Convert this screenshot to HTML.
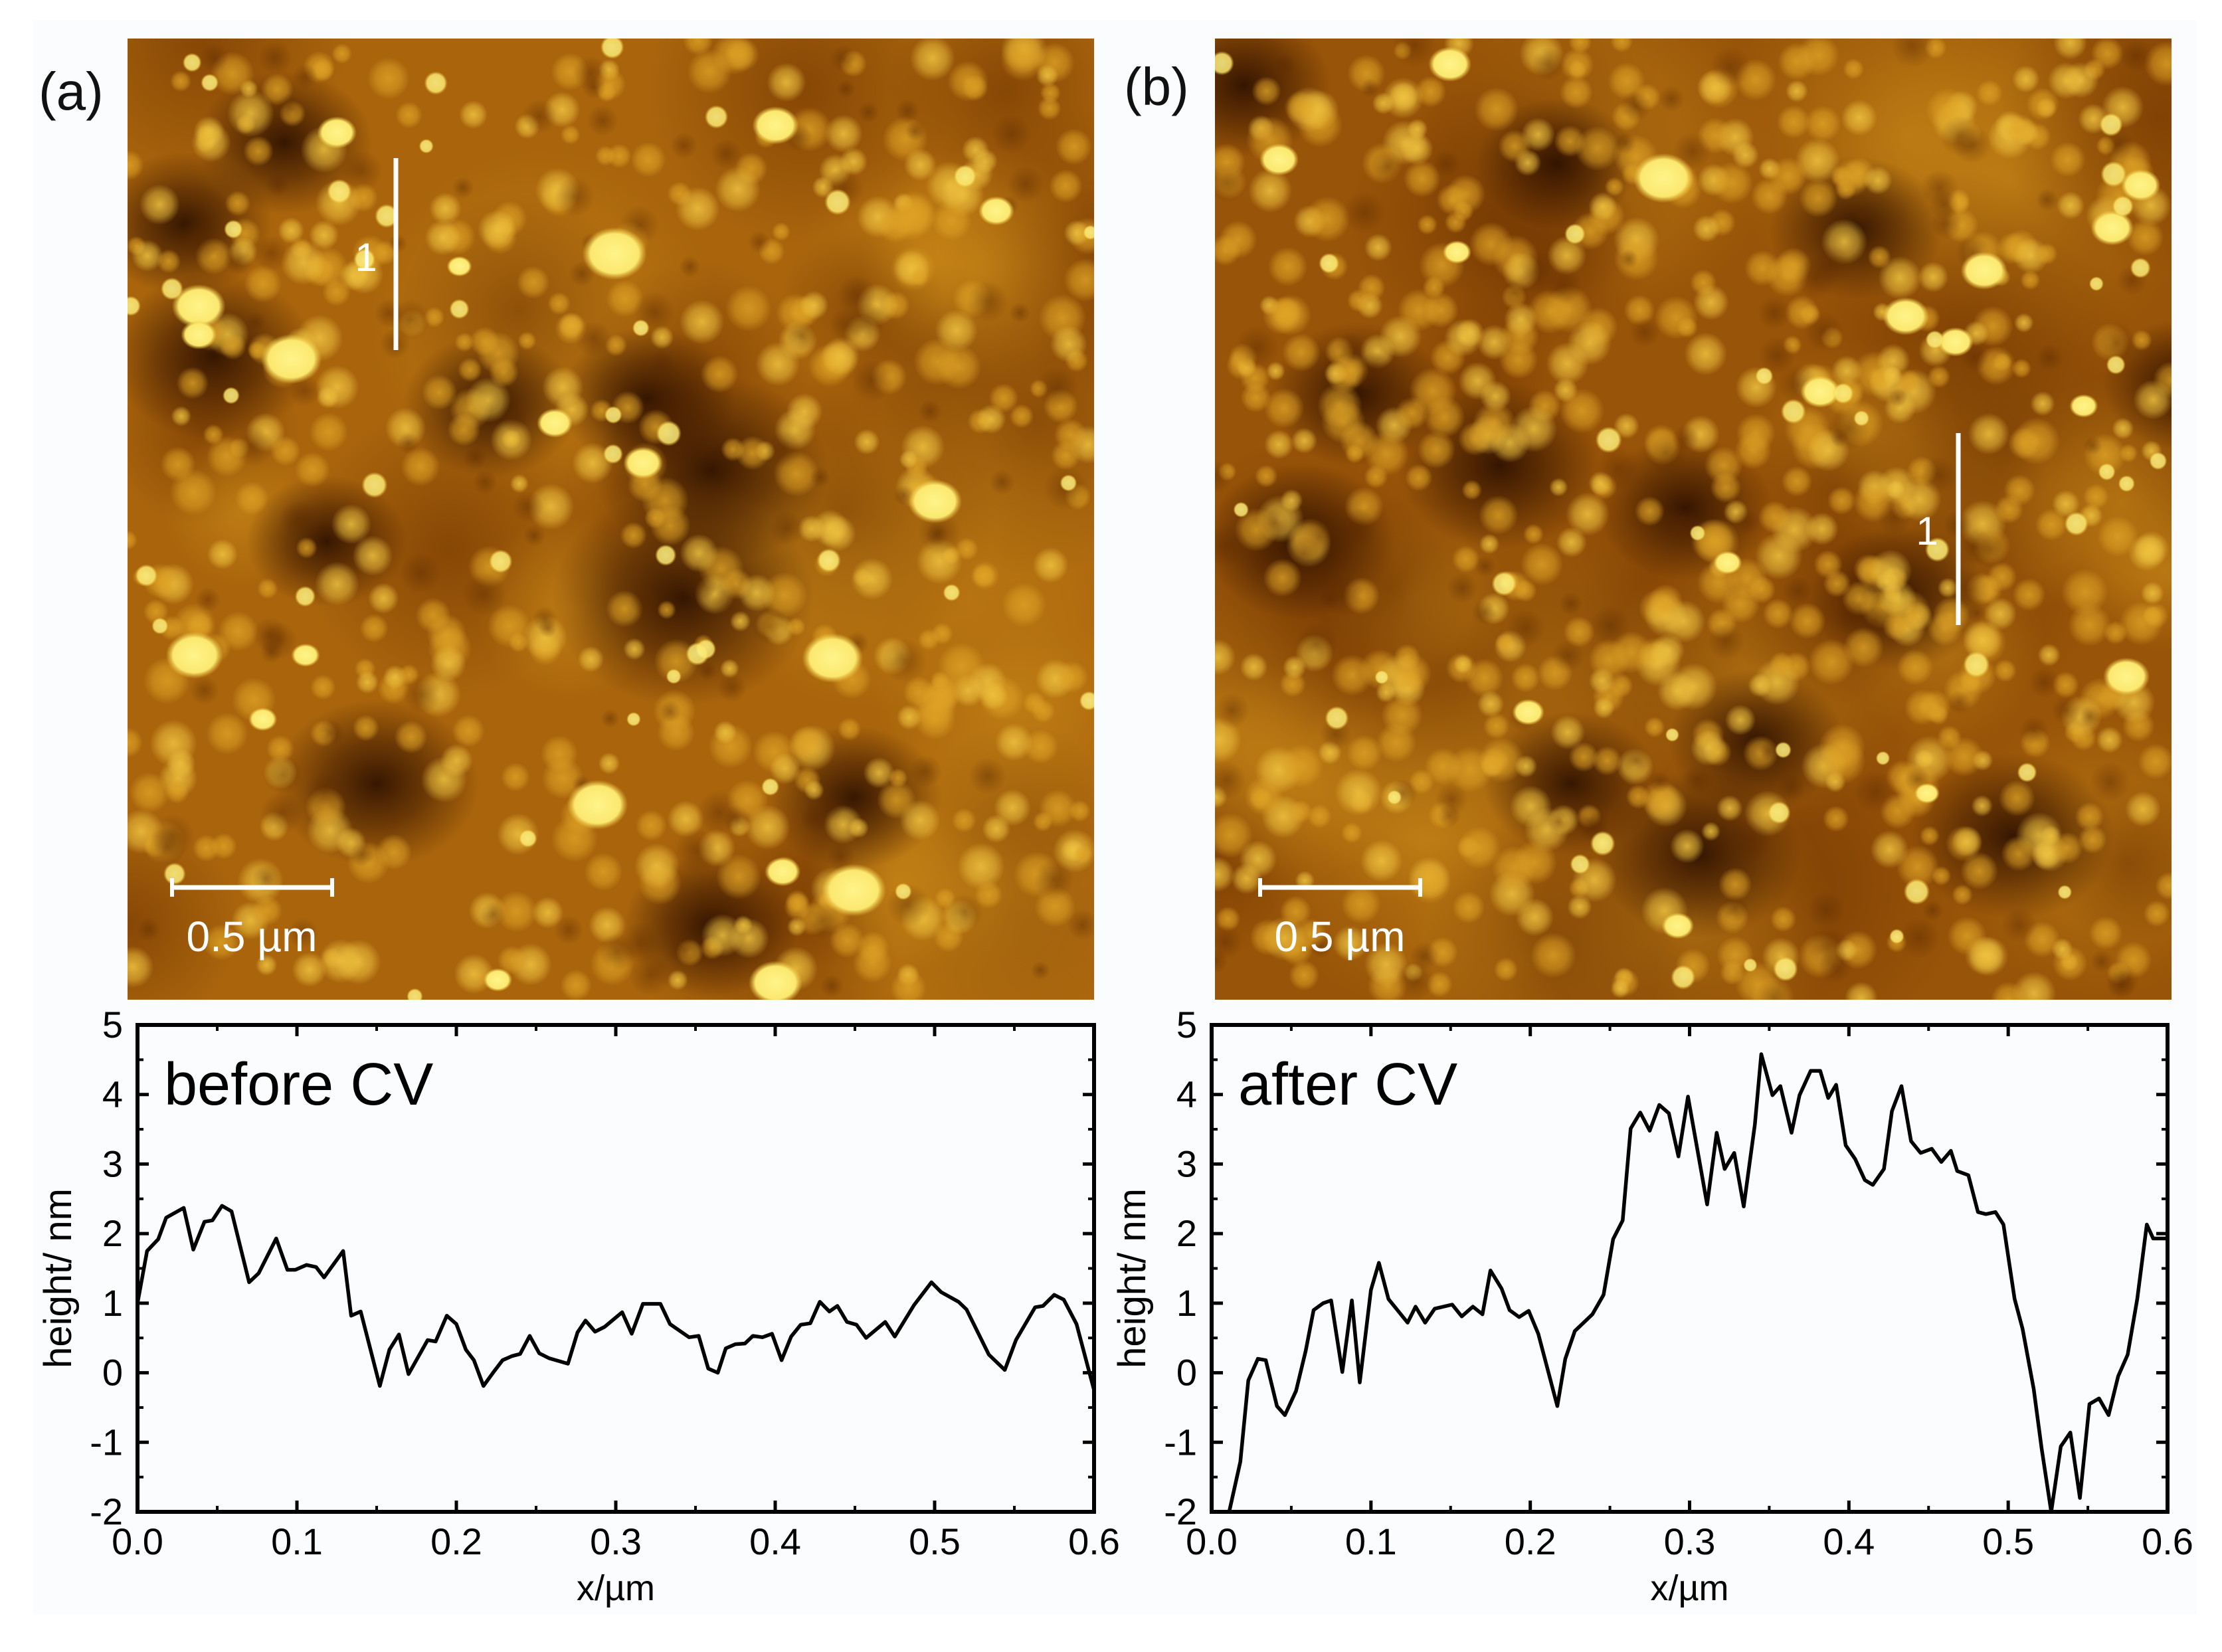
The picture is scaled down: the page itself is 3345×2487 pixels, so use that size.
<!DOCTYPE html>
<html><head><meta charset="utf-8"><style>
html,body{margin:0;padding:0;background:#fff;}
#root{position:relative;width:3345px;height:2487px;overflow:hidden;background:#fff;}
svg text{font-family:"Liberation Sans",sans-serif;}
</style></head><body>
<div id="root">
<svg id="fig" width="3345" height="2487" viewBox="0 0 3345 2487" xmlns="http://www.w3.org/2000/svg">
<defs>
<radialGradient id="gDark"><stop offset="0" stop-color="#2a0e00" stop-opacity="0.9"/><stop offset="0.5" stop-color="#3a1600" stop-opacity="0.55"/><stop offset="1" stop-color="#3a1600" stop-opacity="0"/></radialGradient>
<radialGradient id="gBrown"><stop offset="0" stop-color="#6a3000" stop-opacity="0.55"/><stop offset="1" stop-color="#6a3000" stop-opacity="0"/></radialGradient>
<radialGradient id="gLightPatch"><stop offset="0" stop-color="#d0901a" stop-opacity="0.55"/><stop offset="1" stop-color="#d0901a" stop-opacity="0"/></radialGradient>
<radialGradient id="gGrain1"><stop offset="0" stop-color="#e0a426" stop-opacity="0.8"/><stop offset="0.6" stop-color="#e0a426" stop-opacity="0.5"/><stop offset="1" stop-color="#e0a426" stop-opacity="0"/></radialGradient>
<radialGradient id="gGrain2"><stop offset="0" stop-color="#f0c440" stop-opacity="0.85"/><stop offset="0.6" stop-color="#f0c440" stop-opacity="0.5"/><stop offset="1" stop-color="#f0c440" stop-opacity="0"/></radialGradient>
<radialGradient id="gPit"><stop offset="0" stop-color="#5a2800" stop-opacity="0.45"/><stop offset="1" stop-color="#5a2800" stop-opacity="0"/></radialGradient>
<radialGradient id="gBright"><stop offset="0" stop-color="#fff48a"/><stop offset="0.75" stop-color="#fbe870"/><stop offset="1" stop-color="#f0c840" stop-opacity="0"/></radialGradient>
<clipPath id="clipA"><rect x="192" y="58" width="1455" height="1447"/></clipPath>
<clipPath id="clipB"><rect x="1829" y="58" width="1440" height="1447"/></clipPath>
</defs>
<rect x="50" y="30" width="3257" height="2400" fill="#fafcfd"/>
<g id="afmA" clip-path="url(#clipA)"></g>
<g id="afmB" clip-path="url(#clipB)"></g>
<text x="58" y="165" font-size="80" fill="#111">(a)</text>
<text x="1692" y="158" font-size="80" fill="#111">(b)</text>
<g>
<line x1="259" y1="1336" x2="500" y2="1336" stroke="#fff" stroke-width="7"/>
<line x1="259" y1="1322" x2="259" y2="1350" stroke="#fff" stroke-width="6"/>
<line x1="500" y1="1322" x2="500" y2="1350" stroke="#fff" stroke-width="6"/>
<text x="379" y="1432" font-size="64" fill="#fff" text-anchor="middle" font-family="DejaVu Sans, sans-serif">0.5 µm</text>
</g>
<g>
<line x1="1897" y1="1336" x2="2138" y2="1336" stroke="#fff" stroke-width="7"/>
<line x1="1897" y1="1322" x2="1897" y2="1350" stroke="#fff" stroke-width="6"/>
<line x1="2138" y1="1322" x2="2138" y2="1350" stroke="#fff" stroke-width="6"/>
<text x="2017" y="1432" font-size="64" fill="#fff" text-anchor="middle" font-family="DejaVu Sans, sans-serif">0.5 µm</text>
</g>
<g>
<line x1="596" y1="238" x2="596" y2="527" stroke="#fff" stroke-width="7"/>
<text x="551" y="408" font-size="60" fill="#fff" text-anchor="middle" font-family="DejaVu Sans, sans-serif">1</text>
</g>
<g>
<line x1="2948" y1="652" x2="2948" y2="941" stroke="#fff" stroke-width="7"/>
<text x="2901" y="820" font-size="60" fill="#fff" text-anchor="middle" font-family="DejaVu Sans, sans-serif">1</text>
</g>
<g id="chartA"></g>
<g id="chartB"></g>
</svg>
</div>
<script>
// ---- chart data ----
const xTicks = [0.0, 0.1, 0.2, 0.3, 0.4, 0.5, 0.6];
const xTickLabels = ["0.0","0.1","0.2","0.3","0.4","0.5","0.6"];
const yTicks = [-2, -1, 0, 1, 2, 3, 4, 5];
const yTickLabels = ["-2","-1","0","1","2","3","4","5"];
const beforeX = [0,.006,.013,.018,.029,.035,.042,.047,.053,.059,.070,.076,.087,.094,.099,.106,.112,.117,.129,.134,.140,.152,.158,.164,.170,.182,.187,.194,.200,.206,.211,.217,.223,.229,.235,.240,.246,.252,.258,.270,.276,.281,.287,.293,.304,.310,.317,.328,.334,.346,.352,.358,.364,.369,.375,.381,.386,.392,.398,.404,.410,.416,.422,.428,.434,.439,.445,.451,.457,.469,.475,.487,.498,.504,.515,.520,.534,.544,.551,.563,.568,.575,.581,.589,.600];
const beforeY = [1.0,1.75,1.92,2.23,2.37,1.77,2.17,2.19,2.4,2.32,1.3,1.43,1.93,1.48,1.48,1.55,1.52,1.37,1.75,0.82,0.88,-0.19,0.33,0.55,-0.02,0.47,0.45,0.82,0.7,0.33,0.18,-0.19,0,0.18,0.24,0.27,0.53,0.28,0.21,0.13,0.58,0.75,0.59,0.66,0.87,0.56,0.99,0.99,0.7,0.51,0.53,0.06,0,0.35,0.41,0.42,0.53,0.51,0.56,0.18,0.52,0.69,0.71,1.02,0.88,0.96,0.73,0.69,0.5,0.73,0.52,0.97,1.3,1.16,1.02,0.91,0.26,0.04,0.47,0.94,0.96,1.12,1.05,0.7,-0.25];
const afterX = [.011,.018,.023,.029,.034,.041,.046,.053,.059,.064,.070,.075,.082,.088,.093,.100,.105,.111,.123,.128,.134,.140,.151,.157,.164,.170,.175,.182,.187,.193,.199,.205,.217,.222,.228,.239,.246,.252,.258,.263,.269,.275,.281,.287,.293,.299,.311,.317,.322,.328,.334,.341,.345,.352,.357,.364,.369,.376,.382,.387,.392,.398,.404,.410,.415,.422,.427,.433,.439,.445,.452,.458,.464,.468,.475,.481,.486,.492,.497,.504,.509,.516,.521,.527,.533,.539,.545,.551,.557,.563,.569,.575,.581,.587,.591,.600];
const afterY = [-2,-1.28,-0.11,0.2,0.18,-0.48,-0.61,-0.26,0.31,0.9,1.0,1.04,0.01,1.04,-0.14,1.19,1.58,1.06,0.72,0.95,0.72,0.92,0.98,0.81,0.95,0.84,1.47,1.21,0.9,0.8,0.89,0.56,-0.48,0.2,0.6,0.84,1.12,1.92,2.19,3.51,3.74,3.48,3.85,3.73,3.11,3.97,2.42,3.45,2.93,3.16,2.39,3.57,4.58,3.99,4.12,3.45,3.99,4.34,4.34,3.95,4.14,3.27,3.07,2.77,2.7,2.93,3.76,4.12,3.33,3.16,3.22,3.03,3.19,2.9,2.84,2.31,2.28,2.31,2.13,1.06,0.63,-0.23,-1.09,-2.0,-1.06,-0.86,-1.8,-0.45,-0.37,-0.61,-0.05,0.26,1.06,2.13,1.93,1.93];

const NS = "http://www.w3.org/2000/svg";
function mk(tag, attrs, parent){const e=document.createElementNS(NS,tag);for(const k in attrs)e.setAttribute(k,attrs[k]);if(parent)parent.appendChild(e);return e;}

function drawChart(g, L, R, T, B, xs, ys, title, key){
  const sx = v => L + (v - 0) / 0.6 * (R - L);
  const sy = v => B - (v + 2) / 7 * (B - T);
  const frame = mk("rect",{x:L,y:T,width:R-L,height:B-T,fill:"none",stroke:"#000","stroke-width":6},g);
  
  
  for (let i=0;i<xTicks.length;i++){
    const x = sx(xTicks[i]);
    mk("line",{x1:x,y1:B,x2:x,y2:B-17,stroke:"#000","stroke-width":5},g);
    mk("line",{x1:x,y1:T,x2:x,y2:T+17,stroke:"#000","stroke-width":5},g);
    if (i<xTicks.length-1){
      const xm = sx(xTicks[i]+0.05);
      mk("line",{x1:xm,y1:B,x2:xm,y2:B-9,stroke:"#000","stroke-width":4},g);
      mk("line",{x1:xm,y1:T,x2:xm,y2:T+9,stroke:"#000","stroke-width":4},g);
    }
    const t = mk("text",{x:x,y:B+64,"font-size":56,"text-anchor":"middle",fill:"#000"},g);
    t.textContent = xTickLabels[i];
    
    
  }
  for (let i=0;i<yTicks.length;i++){
    const y = sy(yTicks[i]);
    mk("line",{x1:L,y1:y,x2:L+17,y2:y,stroke:"#000","stroke-width":5},g);
    mk("line",{x1:R,y1:y,x2:R-17,y2:y,stroke:"#000","stroke-width":5},g);
    if (i<yTicks.length-1){
      const ym = sy(yTicks[i]+0.5);
      mk("line",{x1:L,y1:ym,x2:L+9,y2:ym,stroke:"#000","stroke-width":4},g);
      mk("line",{x1:R,y1:ym,x2:R-9,y2:ym,stroke:"#000","stroke-width":4},g);
    }
    const t = mk("text",{x:L-22,y:y+19,"font-size":56,"text-anchor":"end",fill:"#000"},g);
    t.textContent = yTickLabels[i];
    
    
  }
  let d = "";
  for (let i=0;i<xs.length;i++){ d += (i?"L":"M") + sx(xs[i]).toFixed(1) + "," + sy(ys[i]).toFixed(1); }
  const p = mk("path",{d:d,fill:"none",stroke:"#000","stroke-width":5.5,"stroke-linejoin":"round"},g);
  
  
  const tt = mk("text",{x:L+40,y:T+120,"font-size":90,fill:"#000"},g);
  tt.textContent = title;
  
  
  const xl = mk("text",{x:(L+R)/2,y:B+133,"font-size":54,"text-anchor":"middle",fill:"#000"},g);
  xl.textContent = "x/µm";
  
  
  const cx = L-100, cy = (T+B)/2 + 15;
  const yl = mk("text",{x:cx,y:cy,"font-size":58,"text-anchor":"middle",fill:"#000",transform:"rotate(-90 "+cx+" "+cy+")"},g);
  yl.textContent = "height/ nm";
  
  
}
drawChart(document.getElementById("chartA"), 207, 1647, 1543, 2276, beforeX, beforeY, "before CV", "before");
drawChart(document.getElementById("chartB"), 1824, 3263, 1543, 2276, afterX, afterY, "after CV", "after");

// ---- decorative AFM texture (gradient-filled, no filters) ----
function rng(seed){let s=seed;return ()=>{s=(s*16807)%2147483647;return (s-1)/2147483646;};}
function afm(g, x0, y0, w, h, seed, darks, brights, sc, base, nGrain, nPatch){
  mk("rect",{x:x0,y:y0,width:w,height:h,fill:base},g);
  const r = rng(seed);
  for (let i=0;i<nPatch;i++){ mk("circle",{cx:x0+r()*w,cy:y0+r()*h,r:120+r()*160,fill:r()<0.55?"url(#gBrown)":"url(#gLightPatch)"},g); }
  for (const [ox,oy,rr] of darks){ mk("ellipse",{cx:x0+ox*sc,cy:y0+oy*sc,rx:rr*2.2,ry:rr*1.8,fill:"url(#gDark)"},g); }
  for (let i=0;i<nGrain;i++){ mk("circle",{cx:x0+r()*w,cy:y0+r()*h,r:14+r()*22,fill:r()<0.65?"url(#gGrain1)":"url(#gGrain2)"},g); }
  for (let i=0;i<120;i++){ mk("circle",{cx:x0+r()*w,cy:y0+r()*h,r:14+r()*20,fill:"url(#gPit)"},g); }
  for (const [ox,oy,rr] of brights){ mk("ellipse",{cx:x0+ox*sc,cy:y0+oy*sc,rx:rr*1.35,ry:rr*1.1,fill:"url(#gBright)"},g); }
  for (let i=0;i<40;i++){ mk("circle",{cx:x0+r()*w,cy:y0+r()*h,r:10+r()*10,fill:"url(#gBright)",opacity:0.85},g); }
}
afm(document.getElementById("afmA"),192,58,1455,1447,7,
 [[60,223,70],[255,258,60],[365,253,60],[140,353,55],[410,303,80],[175,523,70],[390,393,90],[510,533,60],[410,623,60],[110,73,60],[40,130,60]],
 [[147,66,22],[455,61,26],[342,151,36],[50,188,30],[115,225,34],[610,121,20],[300,270,20],[362,298,22],[567,325,30],[47,433,32],[495,435,34],[330,538,34],[510,598,36],[460,585,20],[260,661,16],[455,663,30],[95,478,16],[125,433,16],[50,208,20],[233,160,14]],
 2.144,"#a9640c",420,30);
afm(document.getElementById("afmB"),1829,58,1440,1447,13,
 [[240,88,55],[20,33,60],[60,353,65],[450,133,60],[340,573,70],[680,243,55],[380,493,60],[250,523,60],[480,393,60],[100,250,60],[200,300,70],[330,330,60],[560,560,70]],
 [[165,18,24],[315,98,34],[540,163,26],[630,133,24],[485,195,26],[650,103,22],[425,248,22],[640,448,26],[45,85,22],[520,213,20],[360,368,16],[220,473,18],[610,258,16],[325,623,18],[170,150,16],[500,530,14]],
 2.144,"#985408",560,40);
</script>
</body></html>
